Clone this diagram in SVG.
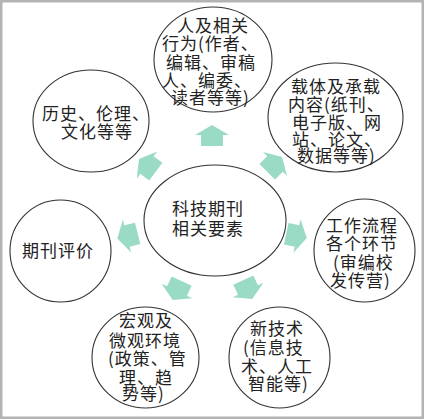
<svg xmlns="http://www.w3.org/2000/svg" width="424" height="419" viewBox="0 0 424 419">
<style>
.node ellipse{fill:none;stroke:#333;stroke-width:1.1}
text{font-family:"Noto Sans CJK SC","Noto Sans",sans-serif;font-size:17px;letter-spacing:1px;fill:#222}
.arrow{fill:#9adbc5}
</style>
<defs>
<polygon id="ar" points="10,0 0,-17 0,-11 -11,-11 -11,11 0,11 0,17"/>
</defs>
<rect x="0" y="0" width="424" height="419" fill="#fff"/>
<rect x="1.25" y="1.25" width="421.5" height="416.5" fill="none" stroke="#b3b3b3" stroke-width="2.5"/>
<g id="connectors" class="arrow">
<use href="#ar" transform="translate(212,135) rotate(-90)"/>
<use href="#ar" transform="translate(147,165) rotate(-143)"/>
<use href="#ar" transform="translate(275,164) rotate(-45)"/>
<use href="#ar" transform="translate(127,236) rotate(166)"/>
<use href="#ar" transform="translate(297,236) rotate(12)"/>
<use href="#ar" transform="translate(177,291) rotate(115)"/>
<use href="#ar" transform="translate(248,290) rotate(65)"/>
</g>
<g id="center" class="node">
<ellipse cx="215" cy="220.5" rx="71" ry="55.5"/>
<text x="172" y="215">科技期刊<tspan x="172" y="235">相关要素</tspan></text>
</g>
<g id="people" class="node">
<ellipse cx="213" cy="59.5" rx="59" ry="52.5"/>
<text x="177" y="32">人及相关<tspan x="162" y="50">行为(作者、</tspan><tspan x="166" y="69">编辑、审稿</tspan><tspan x="162" y="87">人、编委、</tspan><tspan x="171" y="104">读者等等)</tspan></text>
</g>
<g id="history" class="node">
<ellipse cx="91" cy="121" rx="58" ry="51"/>
<text x="42" y="120">历史、伦理、<tspan x="61" y="138">文化等等</tspan></text>
</g>
<g id="carrier" class="node">
<ellipse cx="335.5" cy="117.5" rx="67.5" ry="54.5"/>
<text x="291" y="93">载体及承载<tspan x="288" y="111">内容(纸刊、</tspan><tspan x="292" y="129">电子版、网</tspan><tspan x="292" y="146">站、论文、</tspan><tspan x="297" y="162">数据等等)</tspan></text>
</g>
<g id="evaluation" class="node">
<ellipse cx="60.5" cy="251" rx="50.5" ry="51"/>
<text x="22" y="257">期刊评价</text>
</g>
<g id="workflow" class="node">
<ellipse cx="364.5" cy="250.5" rx="50.5" ry="51.5"/>
<text x="326" y="232">工作流程<tspan x="326" y="250">各个环节</tspan><tspan x="333" y="269">(审编校</tspan><tspan x="330" y="287">发传营)</tspan></text>
</g>
<g id="environment" class="node">
<ellipse cx="145.5" cy="357.5" rx="53.5" ry="50.5"/>
<text x="119" y="327">宏观及<tspan x="109" y="347">微观环境</tspan><tspan x="108" y="365">(政策、管</tspan><tspan x="119" y="384">理、趋</tspan><tspan x="122" y="400">势等)</tspan></text>
</g>
<g id="technology" class="node">
<ellipse cx="279.5" cy="357.5" rx="50.5" ry="50.5"/>
<text x="250" y="335">新技术<tspan x="243" y="354">(信息技</tspan><tspan x="241" y="373">术、人工</tspan><tspan x="248" y="390">智能等)</tspan></text>
</g>
</svg>
